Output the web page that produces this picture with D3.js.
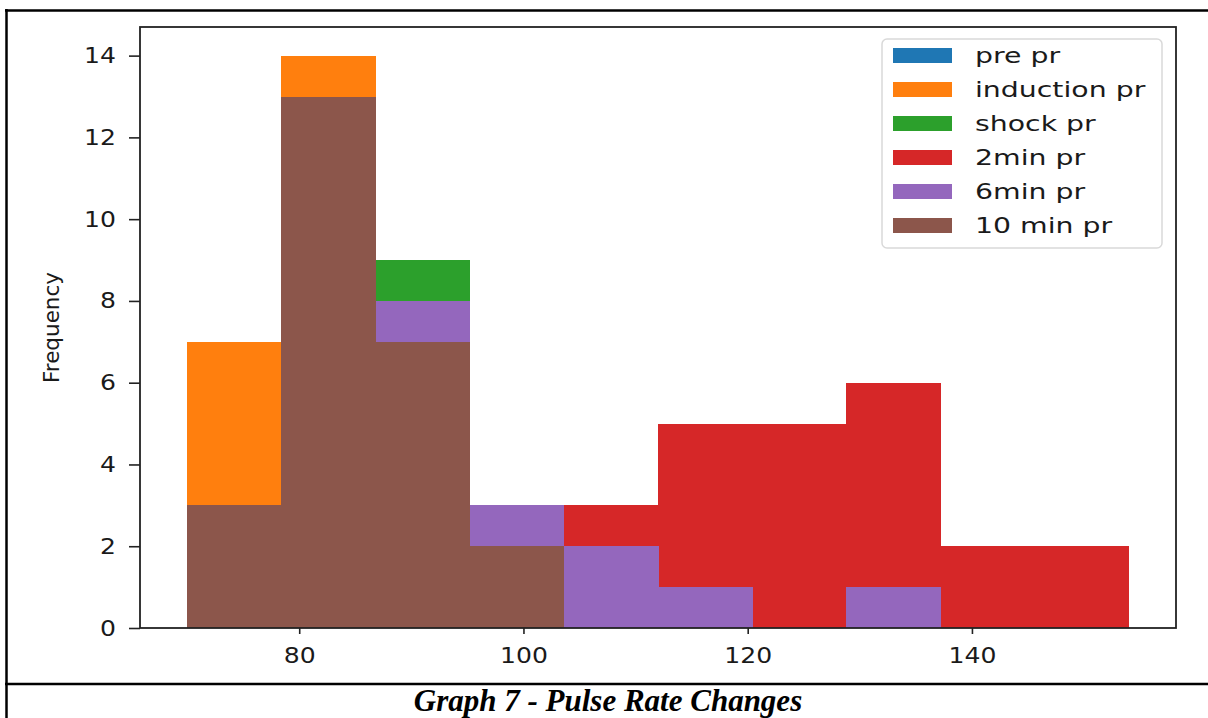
<!DOCTYPE html>
<html>
<head>
<meta charset="utf-8">
<script src="https://cdn.jsdelivr.net/npm/d3@7"></script>
<style>
  body { margin: 0; background: #fff; }
  svg { display: block; font-family: "DejaVu Sans", sans-serif; }
</style>
</head>
<body>
<svg id="chart" width="1208" height="718"></svg>
<script>
// histogram bins (pulse rate), shared by all series
const binEdges = [70, 78.4, 86.8, 95.2, 103.6, 112, 120.4, 128.8, 137.2, 145.6, 154];

const seriesNames = ["pre pr", "induction pr", "shock pr", "2min pr", "6min pr", "10 min pr"];
const seriesColors = ["#1f77b4", "#ff7f0e", "#2ca02c", "#d62728", "#9467bd", "#8c564b"];

// counts per bin, hidden parts estimated
const prePr = [5, 12, 6, 2, 0, 0, 0, 0, 0, 0];
const inductionPr = [7, 14, 3, 1, 0, 0, 0, 0, 0, 0];
const shockPr = [2, 11, 9, 2, 1, 0, 0, 0, 0, 0];
const twoMinPr = [0, 1, 1, 0, 3, 5, 5, 6, 2, 2];
const sixMinPr = [2, 8, 8, 3, 2, 1, 0, 1, 0, 0];
const tenMinPr = [3, 13, 7, 2, 0, 0, 0, 0, 0, 0];

const xTicks = [80, 100, 120, 140];
const yTicks = [0, 2, 4, 6, 8, 10, 12, 14];
const caption = "Graph 7 - Pulse Rate Changes";

const allSeries = [prePr, inductionPr, shockPr, twoMinPr, sixMinPr, tenMinPr];

const svg = d3.select("#chart"),
  margin = { top: 27, right: 32, bottom: 90, left: 140 },
  width = +svg.attr("width") - margin.left - margin.right,
  height = +svg.attr("height") - margin.top - margin.bottom;

svg.append("rect").attr("width", 1208).attr("height", 718).attr("fill", "#fff");

// outer table frame
const frame = svg.append("g").attr("stroke", "#000").attr("stroke-width", 2.5);
frame.append("line").attr("x1", 5).attr("x2", 1208).attr("y1", 10.5).attr("y2", 10.5);
frame.append("line").attr("x1", 6.5).attr("x2", 6.5).attr("y1", 9).attr("y2", 718);
frame.append("line").attr("x1", 5).attr("x2", 1208).attr("y1", 684).attr("y2", 684);

const chartArea = svg.append("g")
  .attr("transform", `translate(${margin.left},${margin.top})`);

const pad = (binEdges[binEdges.length - 1] - binEdges[0]) * 0.05;
const x = d3.scaleLinear()
  .domain([binEdges[0] - pad, binEdges[binEdges.length - 1] + pad])
  .range([0, width]);
const y = d3.scaleLinear().domain([0, 14 * 1.05]).range([height, 0]);

// bars, later series drawn over earlier ones
allSeries.forEach((counts, s) => {
  chartArea.append("g")
    .attr("shape-rendering", "crispEdges")
    .selectAll("rect")
    .data(counts.map((c, i) => ({ c, x0: binEdges[i], x1: binEdges[i + 1] })).filter(d => d.c > 0))
    .enter()
    .append("rect")
    .attr("x", d => x(d.x0))
    .attr("width", d => x(d.x1) - x(d.x0) + 0.5)
    .attr("y", d => y(d.c))
    .attr("height", d => y(0) - y(d.c))
    .attr("fill", seriesColors[s]);
});

// axes
const yAxisGroup = chartArea.append("g")
  .call(d3.axisLeft(y).tickValues(yTicks).tickSize(11).tickPadding(13).tickFormat(d3.format("d")));
const xAxisGroup = chartArea.append("g")
  .attr("transform", `translate(0,${height})`)
  .call(d3.axisBottom(x).tickValues(xTicks).tickSize(6).tickPadding(13).tickFormat(d3.format("d")));

[xAxisGroup, yAxisGroup].forEach(g => {
  g.select(".domain").remove();
  g.selectAll(".tick line").attr("stroke", "#222").attr("stroke-width", 1.6);
  g.selectAll(".tick text")
    .attr("fill", "#1a1a1a")
    .style("font-size", "22px")
    .style("font-family", "DejaVu Sans");
});
yAxisGroup.selectAll(".tick text")
  .attr("x", 0)
  .attr("transform", "translate(-24,0) scale(1.14,1)");
xAxisGroup.selectAll(".tick text")
  .attr("transform", "scale(1.14,1)");

// spines
chartArea.append("rect")
  .attr("width", width)
  .attr("height", height)
  .attr("fill", "none")
  .attr("stroke", "#222")
  .attr("stroke-width", 1.8);

svg.append("text")
  .attr("transform", `translate(59,${margin.top + height / 2}) rotate(-90)`)
  .attr("text-anchor", "middle")
  .attr("fill", "#1a1a1a")
  .style("font-size", "21.5px")
  .text("Frequency");

// legend
const legend = svg.append("g").attr("transform", "translate(882,39)");
legend.append("rect")
  .attr("width", 280)
  .attr("height", 209)
  .attr("rx", 5)
  .attr("fill", "#fff")
  .attr("fill-opacity", 0.8)
  .attr("stroke", "#d9d9d9")
  .attr("stroke-width", 1.5);
seriesNames.forEach((name, i) => {
  const cy = 16.5 + i * 34;
  legend.append("rect")
    .attr("x", 11)
    .attr("y", cy - 7.5)
    .attr("width", 59)
    .attr("height", 15)
    .attr("fill", seriesColors[i]);
  legend.append("text")
    .attr("transform", `translate(93,${cy}) scale(1.35,1)`)
    .attr("dy", "0.36em")
    .attr("fill", "#1a1a1a")
    .style("font-size", "21px")
    .text(name);
});

svg.append("text")
  .attr("x", 608)
  .attr("y", 711)
  .attr("text-anchor", "middle")
  .style("font-family", "Liberation Serif, serif")
  .style("font-weight", "bold")
  .style("font-style", "italic")
  .style("font-size", "31px")
  .text(caption);
</script>
</body>
</html>
